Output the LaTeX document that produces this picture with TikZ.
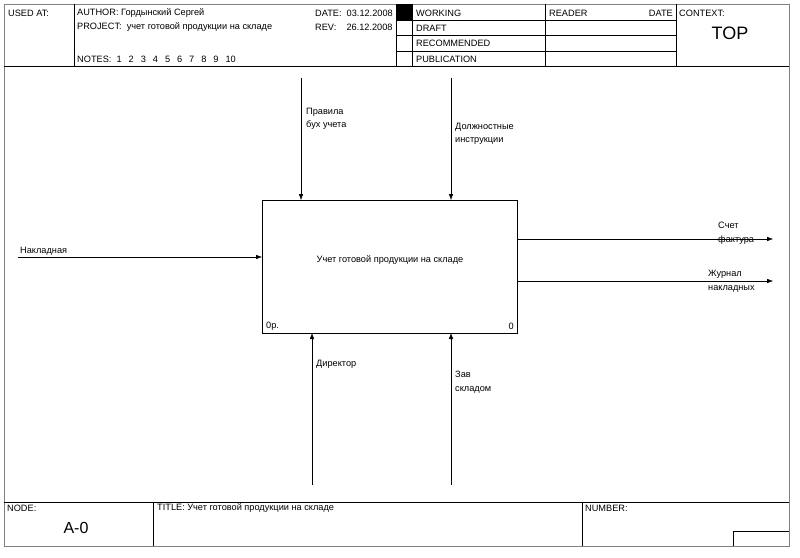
\documentclass[tikz,border=0pt]{standalone}
\usepackage{fontspec}
\setmainfont{Liberation Sans}
\usetikzlibrary{arrows.meta}
\newcommand{\smallfnt}{\fontsize{9.2}{13.5}\selectfont}
\newcommand{\nsp}{\hspace{7pt}}

\begin{document}
\begin{tikzpicture}[x=1pt,y=-1pt,
  lbl/.style={inner sep=0pt,anchor=west,font=\smallfnt,align=left},
  arr/.style={-{Latex[length=6pt,width=4.5pt]},thin}]
  \useasboundingbox (0,0) rectangle (800,557);
  % frame
  \draw[gray] (4,4) rectangle (789,546);
  \draw (4,66) -- (789,66);
  \draw (4,502) -- (789,502);
  \foreach \x in {74,396,412,545,676} \draw (\x,4) -- (\x,66);
  \foreach \y in {20,35,51} \draw (396,\y) -- (676,\y);
  \fill (396,4) rectangle (412,20);
  \draw (153,502) -- (153,546);
  \draw (582,502) -- (582,546);
  \draw (733,546) |- (789,531);
  % header texts
  \node[lbl] (usedat) at (8,13) {USED AT:};
  \node[lbl] (author) at (77,13) {AUTHOR:\ Гордынский Сергей};
  \node[lbl] (project) at (77,27) {PROJECT:\ \ учет готовой продукции на складе};
  \node[lbl] (notes) at (77,59) {NOTES:\ \ 1\nsp2\nsp3\nsp4\nsp5\nsp6\nsp7\nsp8\nsp9\nsp10};
  \node[lbl] (date) at (315,13) {DATE:\ \ 03.12.2008};
  \node[lbl] (rev) at (315,27) {REV:\ \ \ \ 26.12.2008};
  \node[lbl] (working) at (416,13) {WORKING};
  \node[lbl] (draft) at (416,28) {DRAFT};
  \node[lbl] (recom) at (416,43) {RECOMMENDED};
  \node[lbl] (publ) at (416,59) {PUBLICATION};
  \node[lbl] (reader) at (549,13) {READER};
  \node[lbl,anchor=east] (rdate) at (673,13) {DATE};
  \node[lbl] (context) at (679,13) {CONTEXT:};
  \node[inner sep=0pt,font=\fontsize{18}{18}\selectfont] (top) at (730,33) {TOP};
  % footer texts
  \node[lbl] (nodelbl) at (7,508) {NODE:};
  \node[inner sep=0pt,font=\fontsize{16}{16}\selectfont] (nodenum) at (76,528) {A-0};
  \node[lbl] (title) at (157,508) {TITLE:\ Учет готовой продукции на складе};
  \node[lbl] (number) at (585,508) {NUMBER:};
  % activity box
  \draw (262,200) rectangle (517,333);
  \node[inner sep=0pt,font=\smallfnt] (act) at (390,260) {Учет готовой продукции на складе};
  \node[lbl] (actid) at (266,326) {0р.};
  \node[lbl,anchor=east] (actnum) at (514,326) {0};
  % arrows
  \coordinate (c1) at (301,78);   \coordinate (c1e) at (301,200);
  \coordinate (c2) at (451,78);   \coordinate (c2e) at (451,200);
  \coordinate (i1) at (18,257);   \coordinate (i1e) at (262,257);
  \coordinate (o1) at (517,239);  \coordinate (o1e) at (773,239);
  \coordinate (o2) at (517,281);  \coordinate (o2e) at (773,281);
  \coordinate (m1) at (312,485);  \coordinate (m1e) at (312,333);
  \coordinate (m2) at (451,485);  \coordinate (m2e) at (451,333);
  \foreach \a/\b in {c1/c1e,c2/c2e,i1/i1e,o1/o1e,o2/o2e,m1/m1e,m2/m2e}
    \draw[arr] (\a) -- (\b);
  % arrow labels
  \node[lbl] (ctl1) at (306,119) {Правила\\бух учета};
  \node[lbl] (ctl2) at (455,134) {Должностные\\инструкции};
  \node[lbl] (inp1) at (20,251) {Накладная};
  \node[lbl] (out1) at (718,233) {Счет\\фактура};
  \node[lbl] (out2) at (708,281) {Журнал\\накладных};
  \node[lbl] (mech1) at (316,364) {Директор};
  \node[lbl] (mech2) at (455,382) {Зав\\складом};
\end{tikzpicture}
\end{document}
